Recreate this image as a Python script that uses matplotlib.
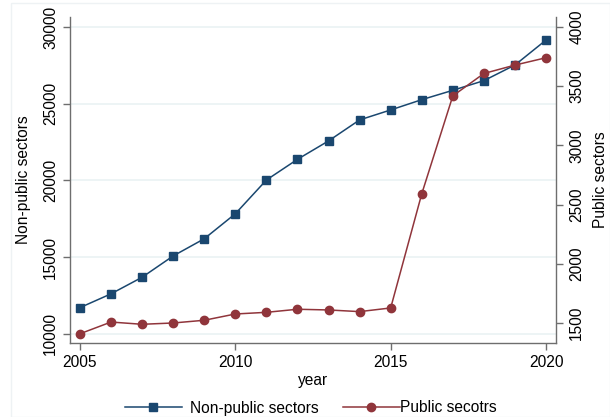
import numpy as np
import matplotlib.pyplot as plt
from matplotlib.legend import Legend

plt.rcParams['font.family'] = ['Liberation Sans', 'DejaVu Sans']

# data
years = list(range(2005, 2021))
non_public = [11700, 12600, 13680, 15070, 16190, 17820, 20020, 21370,
              22570, 23940, 24590, 25260, 25870, 26500, 27520, 29150]
public = [1409, 1508, 1489, 1500, 1523, 1576, 1590, 1616,
          1610, 1596, 1627, 2591, 3418, 3607, 3678, 3740]

navy = '#1a476f'
maroon = '#90353b'
axcol = '#6e6e6e'
fs = 11.2

fig = plt.figure(figsize=(6.1, 4.17), dpi=100)
ax = fig.add_axes([70/610, 1 - 343/417, (556 - 70)/610, (343 - 17)/417])
ax2 = ax.twinx()

ax.plot(years, non_public, color=navy, marker='s', markersize=5.5,
        linewidth=1.1, label='Non-public sectors')
ax2.plot(years, public, color=maroon, marker='o', markersize=6,
         linewidth=1.1, label='Public secotrs')

ax.set_xlim(2004.68, 2020.32)
ax.set_ylim(9394, 30650)
ax2.set_ylim(1331, 4084)

ax.set_xticks([2005, 2010, 2015, 2020])
ax.set_yticks([10000, 15000, 20000, 25000, 30000])
ax2.set_yticks([1500, 2000, 2500, 3000, 3500, 4000])

ax.grid(True, axis='y', color='#eaf2f3', linewidth=1.2)
ax.set_axisbelow(True)

for a in (ax, ax2):
    a.spines['top'].set_visible(False)
    for s in ('left', 'right', 'bottom'):
        a.spines[s].set_color(axcol)
        a.spines[s].set_linewidth(1.0)
    a.tick_params(colors=axcol, labelcolor='black', labelsize=fs,
                  length=5, width=1.0)
ax2.tick_params(axis='y', pad=4.5)

ax.spines['right'].set_visible(False)
ax2.spines['left'].set_visible(False)
ax2.spines['bottom'].set_visible(False)

for lab in ax.get_yticklabels() + ax2.get_yticklabels():
    lab.set_rotation(90)
    lab.set_va('center')

ax.set_xlabel('year', fontsize=fs, labelpad=2)
ax.set_ylabel('Non-public sectors', fontsize=fs, labelpad=8.5)
ax2.set_ylabel('Public sectors', fontsize=fs, rotation=90, labelpad=6)

# legend: two keys under the plot, Stata style
h1, l1 = ax.get_legend_handles_labels()
h2, l2 = ax2.get_legend_handles_labels()
ly = 1 - 408/417
leg1 = Legend(fig, h1, l1, loc='center left', bbox_to_anchor=(125/610, ly),
              frameon=False, fontsize=fs, handlelength=3.66,
              handletextpad=0.55, borderpad=0, borderaxespad=0)
leg2 = Legend(fig, h2, l2, loc='center left', bbox_to_anchor=(343/610, ly),
              frameon=False, fontsize=fs, handlelength=3.66,
              handletextpad=0.0, borderpad=0, borderaxespad=0)
fig.legends.extend([leg1, leg2])

# faint outer border of the graph region
fig.patches.append(plt.Rectangle((11/610, 0), 1 - 11/610, 1 - 3/417,
                                 transform=fig.transFigure, fill=False,
                                 edgecolor='#eef2f4', linewidth=1))

fig.savefig('out.png', dpi=100, facecolor='white')
